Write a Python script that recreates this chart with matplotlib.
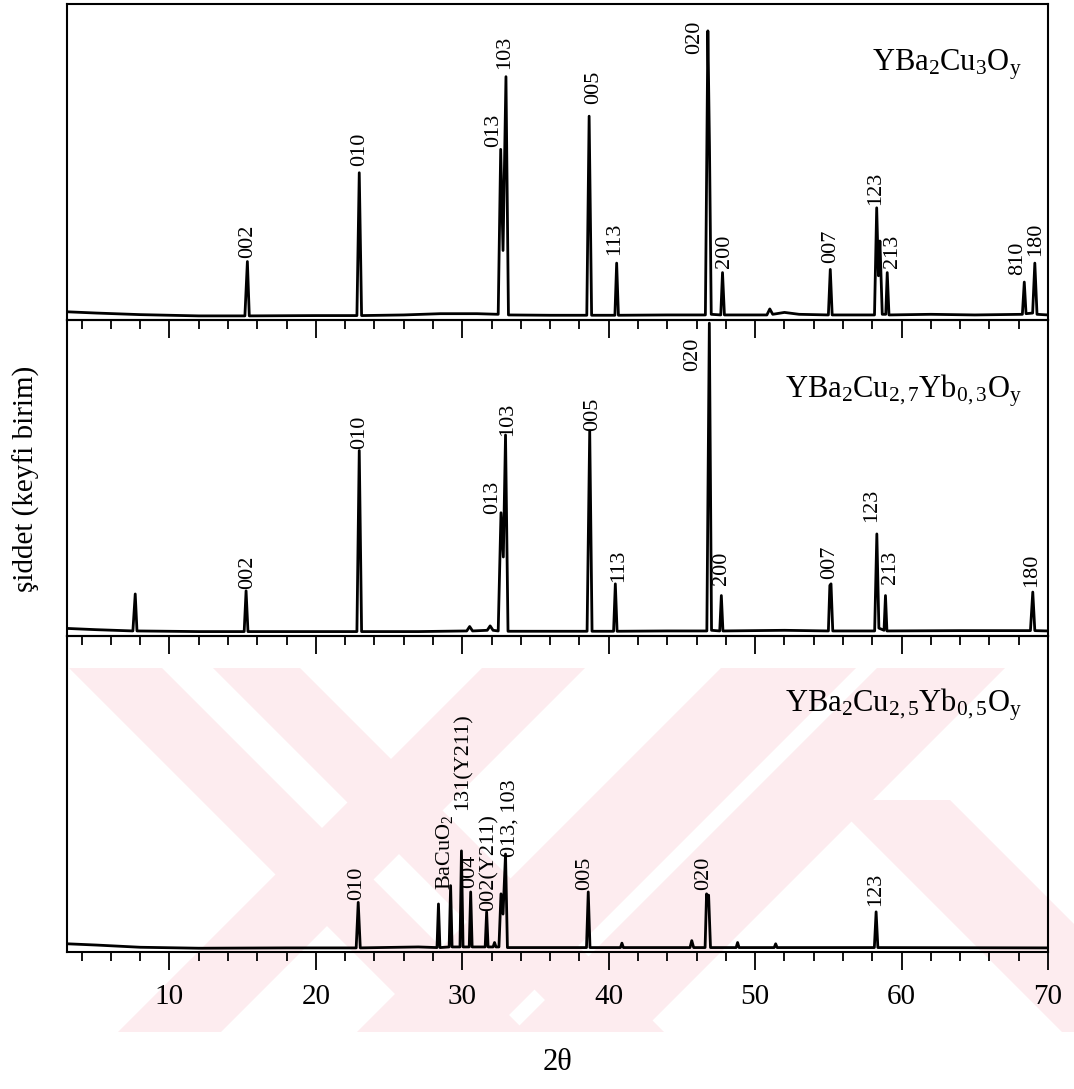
import matplotlib
matplotlib.use("Agg")
import matplotlib.pyplot as plt
from matplotlib.patches import Polygon, Rectangle
from matplotlib.ticker import MultipleLocator

plt.rcParams['font.family'] = ['Liberation Serif', 'DejaVu Serif']
plt.rcParams['mathtext.fontset'] = 'custom'
plt.rcParams['mathtext.rm'] = 'Liberation Serif'
plt.rcParams['mathtext.it'] = 'Liberation Serif:italic'

# ---- data (2theta in deg, intensity in % of panel) ----
tt_a = [3.0, 5.0, 8.0, 12.0, 15.15, 15.32, 15.45, 20.0, 22.8, 22.96, 23.12,
        26.0, 28.5, 31.0, 32.45, 32.62, 32.78, 32.98, 33.15, 36.0, 38.5,
        38.66, 38.83, 40.42, 40.54, 40.66, 44.0, 46.6, 46.77, 46.88, 47.0,
        47.65, 47.77, 47.9, 50.8, 51.0, 51.2, 52.0, 53.0, 55.0, 55.13, 55.26,
        58.15, 58.3, 58.42, 58.52, 58.68, 58.92, 59.02, 59.14, 62.0, 65.0,
        68.25, 68.38, 68.5, 68.95, 69.1, 69.25, 70.0]
I_a = [2.6, 2.2, 1.7, 1.3, 1.3, 18.5, 1.3, 1.4, 1.4, 46.6, 1.4,
       1.6, 2.0, 2.0, 1.8, 54.0, 22.0, 77.0, 1.6, 1.5, 1.5,
       64.5, 1.5, 1.5, 18.0, 1.5, 1.6, 1.6, 91.5, 55.0, 1.8,
       1.6, 15.0, 1.6, 1.6, 3.5, 1.8, 2.4, 1.8, 1.6, 16.0, 1.6,
       1.6, 35.5, 14.0, 25.0, 1.8, 1.8, 15.0, 1.6, 1.8, 1.6,
       1.8, 12.0, 2.0, 2.2, 18.0, 1.8, 1.6]

tt_b = [3.0, 5.0, 7.5, 7.66, 7.78, 12.0, 15.1, 15.23, 15.36, 20.0, 22.8,
        22.96, 23.12, 27.0, 30.3, 30.5, 30.7, 31.7, 31.9, 32.1, 32.45,
        32.64, 32.8, 32.95, 33.12, 36.0, 38.52, 38.7, 38.86, 40.33, 40.45,
        40.57, 44.0, 46.7, 46.87, 47.02, 47.58, 47.69, 47.8, 52.0, 55.0,
        55.1, 55.18, 55.3, 58.16, 58.31, 58.45, 58.8, 58.9, 59.0, 64.0,
        68.8, 68.96, 69.1, 70.0]
I_b = [2.4, 2.0, 1.6, 13.3, 1.6, 1.4, 1.4, 14.3, 1.4, 1.4, 1.4,
       58.7, 1.4, 1.4, 1.6, 3.0, 1.6, 1.8, 3.2, 1.8, 1.6,
       39.0, 25.0, 63.6, 1.5, 1.5, 1.5, 65.0, 1.5, 1.5, 16.5,
       1.5, 1.6, 1.6, 99.0, 1.8, 1.6, 12.8, 1.6, 1.8, 1.6,
       16.0, 16.5, 1.6, 1.6, 32.3, 2.5, 1.8, 12.8, 1.6, 1.7,
       1.7, 13.9, 1.7, 1.6]

tt_c = [3.0, 5.0, 8.0, 12.0, 18.0, 22.75, 22.89, 23.03, 27.0, 28.27, 28.37,
        28.47, 29.1, 29.2, 29.3, 29.84, 29.94, 30.05, 30.47, 30.57, 30.67,
        31.56, 31.66, 31.76, 32.1, 32.2, 32.3, 32.5, 32.64, 32.78, 32.95,
        33.08, 36.0, 38.48, 38.6, 38.72, 40.8, 40.9, 41.0, 45.55, 45.67,
        45.8, 46.58, 46.68, 46.75, 46.82, 46.95, 48.7, 48.8, 48.9, 51.3,
        51.4, 51.5, 58.14, 58.26, 58.38, 70.0]
I_c = [2.6, 2.2, 1.5, 1.2, 1.3, 1.3, 15.7, 1.3, 1.6, 1.4, 15.2,
       1.4, 1.6, 21.0, 1.6, 1.6, 32.0, 1.6, 1.6, 19.0, 1.6,
       1.6, 12.7, 1.6, 1.6, 3.0, 1.6, 1.6, 18.4, 12.0, 31.0,
       1.4, 1.4, 1.4, 19.0, 1.4, 1.4, 2.8, 1.4, 1.4, 3.6,
       1.4, 1.4, 18.4, 16.0, 18.0, 1.4, 1.4, 3.0, 1.4, 1.4,
       2.6, 1.4, 1.4, 12.7, 1.4, 1.3]

# peak labels: text, 2theta, intensity at label start
lab_a = [("002", 15.32, 19.7), ("010", 22.96, 48.6), ("013", 32.17, 54.6),
         ("103", 32.88, 79.4), ("005", 38.99, 68.3), ("113", 40.42, 20.6),
         ("020", 45.87, 84.1), ("200", 47.9, 16.5), ("007", 55.17, 18.1),
         ("123", 58.2, 36.5), ("213", 59.37, 16.5), ("810", 67.9, 14.3),
         ("180", 69.16, 20.1)]
lab_b = [("002", 15.37, 14.9), ("010", 23.0, 59.2), ("013", 32.06, 38.6),
         ("103", 33.1, 63.4), ("005", 38.9, 65.0), ("113", 40.66, 17.1),
         ("020", 45.75, 84.0), ("200", 47.73, 16.1), ("007", 55.1, 18.0),
         ("123", 57.95, 36.0), ("213", 59.26, 16.5), ("180", 68.9, 15.5)]
lab_c = [("010", 22.77, 16.3), ("BaCuO$_2$", 28.8, 19.5),
         ("131(Y211)", 30.05, 44.8), ("004", 30.52, 20.3),
         ("002(Y211)", 31.82, 13.1), ("013, 103", 33.28, 30.0),
         ("005", 38.36, 19.5), ("020", 46.47, 19.5), ("123", 58.2, 14.7)]

names = [r'YBa$_\mathrm{2}$Cu$_\mathrm{3}$O$_\mathrm{y}$',
         r'YBa$_\mathrm{2}$Cu$_\mathrm{2,7}$Yb$_\mathrm{0,3}$O$_\mathrm{y}$',
         r'YBa$_\mathrm{2}$Cu$_\mathrm{2,5}$Yb$_\mathrm{0,5}$O$_\mathrm{y}$']

W, H = 1074, 1089
fig = plt.figure(figsize=(W / 100, H / 100), dpi=100)


def px(x, y):
    # pixel (top-left origin) -> figure fraction
    return (x / W, 1 - y / H)


# ---- faint pink watermark behind the bottom panel ----
WM = '#fdecef'
wm_top, wm_bot = 668, 1032
drop = wm_bot - wm_top
clip = Rectangle(px(65, wm_bot), (W - 65) / W, drop / H,
                 transform=fig.transFigure, visible=False)
fig.add_artist(clip)
bands = [(69, 162, 1), (213, 300, 1), (482, 585, -1), (721, 856, -1),
         (877, 1005, -1)]
for x0, x1, d in bands:
    pts = [px(x0, wm_top), px(x1, wm_top),
           px(x1 + d * drop, wm_bot), px(x0 + d * drop, wm_bot)]
    p = Polygon(pts, closed=True, transform=fig.transFigure,
                facecolor=WM, edgecolor='none', zorder=-5)
    p.set_clip_path(clip)
    fig.add_artist(p)
p = Polygon([px(830, 800), px(950, 800), px(1182, wm_bot), px(1062, wm_bot)],
            closed=True, transform=fig.transFigure,
            facecolor=WM, edgecolor='none', zorder=-5)
p.set_clip_path(clip)
fig.add_artist(p)

# ---- three stacked panels ----
left, right = 67 / W, 1048 / W
ph = 316 / H
bot = 1 - 952 / H
series = [(tt_a, I_a, lab_a), (tt_b, I_b, lab_b), (tt_c, I_c, lab_c)]
name_y = [0.79, 0.755, 0.76]

for i, (tt, ii, labs) in enumerate(series):
    ax = fig.add_axes([left, bot + (2 - i) * ph, right - left, ph])
    ax.set_facecolor('none')
    ax.plot(tt, ii, color='black', lw=2.0)
    ax.set_xlim(3, 70)
    ax.set_ylim(0, 100)
    ax.set_yticks([])
    ax.xaxis.set_major_locator(MultipleLocator(10))
    ax.xaxis.set_minor_locator(MultipleLocator(2))
    ax.tick_params(axis='x', which='major', direction='out', length=13,
                   width=1.3, labelsize=21, pad=10)
    ax.tick_params(axis='x', which='minor', direction='out', length=6.5,
                   width=1.3)
    if i < 2:
        ax.tick_params(axis='x', labelbottom=False)
    for s in ax.spines.values():
        s.set_linewidth(1.5)
    for txt, x, y in labs:
        ax.text(x, y, txt, rotation=90, ha='center', va='bottom',
                fontsize=16)
    ax.text(0.973, name_y[i], names[i], transform=ax.transAxes,
            ha='right', va='baseline', fontsize=22)

fig.text(26 / W, 1 - 479 / H, 'şiddet (keyfi birim)', rotation=90,
         ha='center', va='center', fontsize=21)
fig.text(557 / W, 1 - 1063 / H, '2θ', ha='center', va='center', fontsize=22)

fig.savefig('out.png', dpi=100)
